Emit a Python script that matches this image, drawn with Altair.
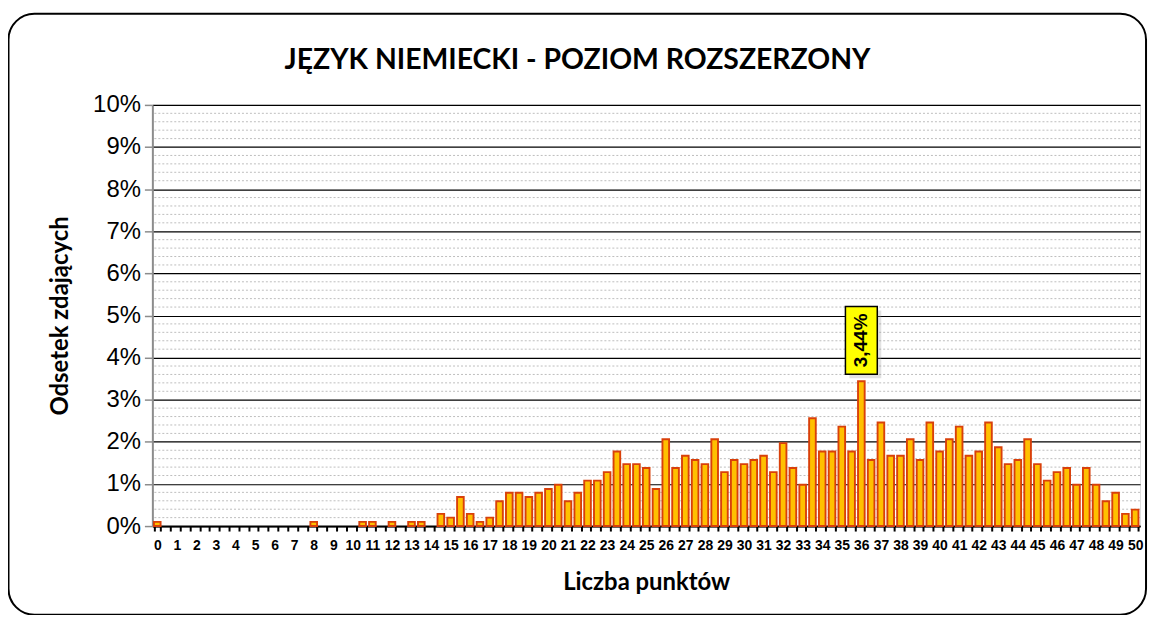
import altair as alt
import pandas as pd

# ---- data ----
points = [i / 2 for i in range(101)]  # 0, 0.5, 1, ..., 50 (categories)
pct = [
    0.10, 0.00, 0.00, 0.00, 0.00, 0.00, 0.00, 0.00, 0.00, 0.00,   # 0 - 4.5
    0.00, 0.00, 0.00, 0.00, 0.00, 0.00, 0.10, 0.00, 0.00, 0.00,   # 5 - 9.5
    0.00, 0.10, 0.10, 0.00, 0.10, 0.00, 0.10, 0.10, 0.00, 0.29,   # 10 - 14.5
    0.20, 0.69, 0.29, 0.10, 0.20, 0.59, 0.79, 0.79, 0.69, 0.79,   # 15 - 19.5
    0.88, 0.98, 0.59, 0.79, 1.08, 1.08, 1.28, 1.77, 1.47, 1.47,   # 20 - 24.5
    1.38, 0.88, 2.06, 1.38, 1.67, 1.57, 1.47, 2.06, 1.28, 1.57,   # 25 - 29.5
    1.47, 1.57, 1.67, 1.28, 1.97, 1.38, 0.98, 2.56, 1.77, 1.77,   # 30 - 34.5
    2.36, 1.77, 3.44, 1.57, 2.46, 1.67, 1.67, 2.06, 1.57, 2.46,   # 35 - 39.5
    1.77, 2.06, 2.36, 1.67, 1.77, 2.46, 1.87, 1.47, 1.57, 2.06,   # 40 - 44.5
    1.47, 1.08, 1.28, 1.38, 0.98, 1.38, 0.98, 0.59, 0.79, 0.29,   # 45 - 49.5
    0.39,                                                         # 50
]
y_ticks = list(range(0, 11))
minor_ticks = [round(k * 0.2, 1) for k in range(51) if k % 5 != 0]
peak_point = [36.0]
peak_value = [3.44]

chart_title = "JĘZYK NIEMIECKI - POZIOM ROZSZERZONY"
x_title = "Liczba punktów"
y_title = "Odsetek zdających"

W, H = 992, 423

df = pd.DataFrame({"pts": points, "pct": pct})
ann = pd.DataFrame({"pts": peak_point, "pct": peak_value})
minor_df = pd.DataFrame({"pct": minor_ticks})

xscale = alt.Scale(domain=points, paddingInner=0.32, paddingOuter=0.16)
yscale = alt.Scale(domain=[0, 10], nice=False, zero=True)

x_axis = alt.Axis(
    title=x_title,
    labelExpr="datum.value % 1 == 0 ? datum.label : ''",
    labelAngle=0,
    labelOverlap=False,
    tickBand="extent",
    tickSize=5,
    tickWidth=2,
    tickColor="black",
    domainColor="black",
    domainWidth=2,
    labelFont="'Liberation Sans Narrow', 'Arial Narrow', 'Liberation Sans', Arial, sans-serif",
    labelFontWeight="bold",
    labelFontSize=14,
    labelColor="black",
    labelPadding=8,
    titleFont="Lato",
    titleFontSize=24,
    titleFontWeight="bold",
    titleColor="black",
    titleY=57,
    titleBaseline="middle",
    grid=False,
)

y_axis = alt.Axis(
    title=y_title,
    values=y_ticks,
    labelExpr="datum.value + '%'",
    grid=True,
    gridColor="black",
    gridWidth=1.2,
    tickColor="#8C8C8C",
    tickSize=8,
    tickWidth=1.5,
    domainColor="#8C8C8C",
    domainWidth=2,
    labelFont="Liberation Sans",
    labelFontSize=24,
    labelColor="black",
    labelPadding=4,
    titleFont="Lato",
    titleFontSize=24,
    titleFontWeight="bold",
    titleColor="black",
    titleAngle=-90,
    titleX=-92,
    titleY=H / 2,
    titleAlign="center",
    titleBaseline="middle",
)

minor = alt.Chart(minor_df).mark_rule(
    color="#BDBDBD", strokeDash=[2, 2], strokeWidth=1
).encode(y=alt.Y("pct:Q", scale=yscale, axis=y_axis))

bars = alt.Chart(df).transform_filter("datum.pct > 0").mark_bar(
    fill="#FFC000", stroke="#D9400A", strokeWidth=1.9
).encode(
    x=alt.X("pts:O", scale=xscale, sort=None, axis=x_axis),
    y=alt.Y("pct:Q", scale=yscale, axis=y_axis),
)

enc = dict(
    x=alt.X("pts:O", scale=xscale, sort=None, axis=x_axis),
    y=alt.Y("pct:Q", scale=yscale, axis=y_axis),
)

shadow = alt.Chart(ann).mark_rect(
    width=32, height=68, yOffset=-37, xOffset=4, fill="#9E9E9E", opacity=0.3
).encode(**enc)

box = alt.Chart(ann).mark_rect(
    width=32, height=68, yOffset=-41, fill="#FFFF00", stroke="black", strokeWidth=1.5
).encode(**enc)

label = alt.Chart(ann).transform_calculate(
    lab="replace(format(datum.pct, '.2f'), '.', ',') + '%'"
).mark_text(
    angle=270, yOffset=-41, font="Liberation Sans", fontSize=19, fontWeight="bold",
    color="black", align="center", baseline="middle"
).encode(text="lab:N", **enc)

frame = alt.Chart(pd.DataFrame({"a": [0]})).mark_rect(
    fillOpacity=0, stroke="black", strokeWidth=2, cornerRadius=26
).encode(
    x=alt.value(-144.5), x2=alt.value(998), y=alt.value(-91.5), y2=alt.value(512)
)

title_mark = alt.Chart(pd.DataFrame({"t": [chart_title]})).mark_text(
    font="Lato", fontSize=28.5, fontWeight="bold", color="black",
    align="center", baseline="alphabetic"
).encode(text="t:N", x=alt.value(427), y=alt.value(-36))

chart = alt.layer(minor, bars, shadow, box, label, frame, title_mark).properties(
    width=W,
    height=H,
    autosize="none",
    padding={"left": 145, "top": 96, "right": 12, "bottom": 88},
).configure_view(stroke=None).configure(background="white")

chart.save("out.html", embed_options={"renderer": "svg", "actions": False})
